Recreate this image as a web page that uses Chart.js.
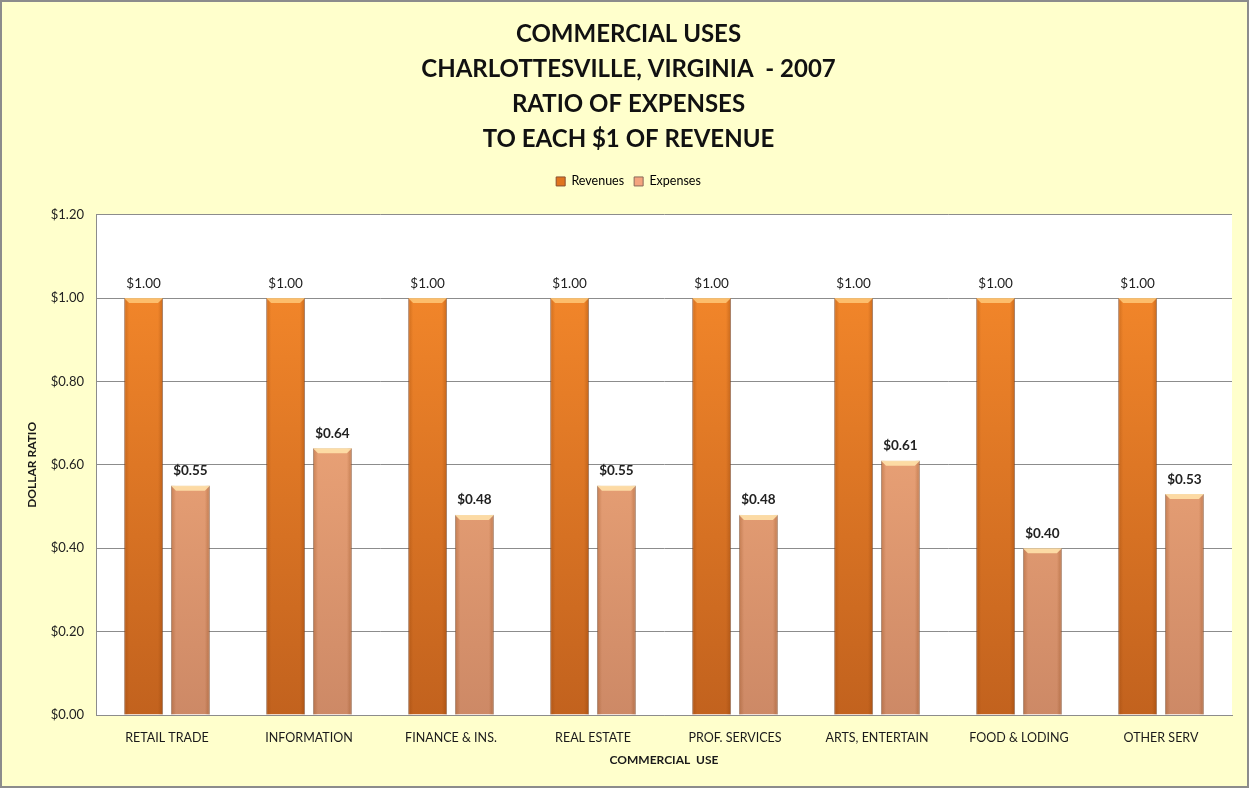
<!DOCTYPE html>
<html>
<head>
<meta charset="utf-8">
<script src="https://cdn.jsdelivr.net/npm/chart.js@4/dist/chart.umd.min.js"></script>
<style>
  html, body { margin: 0; padding: 0; background: #fff; }
  #wrap { position: relative; width: 1249px; height: 788px; background: #FFFFCC; box-sizing: border-box; border: 2px solid #8c8c8c; }
  canvas { display: block; }
</style>
</head>
<body>
<div id="wrap"><canvas id="chart" width="1245" height="784"></canvas></div>
<script>
const titleLines = ['COMMERCIAL USES', 'CHARLOTTESVILLE, VIRGINIA  - 2007', 'RATIO OF EXPENSES', 'TO EACH $1 OF REVENUE'];
const uses = ['RETAIL TRADE', 'INFORMATION', 'FINANCE & INS.', 'REAL ESTATE', 'PROF. SERVICES', 'ARTS, ENTERTAIN', 'FOOD & LODING', 'OTHER SERV'];
const revenues = [1.00, 1.00, 1.00, 1.00, 1.00, 1.00, 1.00, 1.00];
const expenses = [0.55, 0.64, 0.48, 0.55, 0.48, 0.61, 0.40, 0.53];

const FONT = 'Lato, "DejaVu Sans", sans-serif';
const TEXT = '#1a1a1a';

const money = v => '$' + v.toFixed(2);

// vertical gradient for each series, lighter at the top of the plot
function barFill(top, bottom) {
    return ctx => {
        const area = ctx.chart.chartArea;
        if (!area) return top;
        const g = ctx.chart.ctx.createLinearGradient(0, area.top, 0, area.bottom);
        g.addColorStop(0, top);
        g.addColorStop(1, bottom);
        return g;
    };
}

// white plot background
const plotBg = {
    id: 'plotBg',
    beforeDraw(chart) {
        const { ctx, chartArea: a } = chart;
        ctx.save();
        ctx.fillStyle = '#ffffff';
        ctx.fillRect(a.left, a.top, a.right - a.left, a.bottom - a.top);
        ctx.restore();
    }
};

// bevel shading + value labels on each bar
const barDecor = {
    id: 'barDecor',
    afterDatasetsDraw(chart) {
        const ctx = chart.ctx;
        chart.data.datasets.forEach((ds, di) => {
            const meta = chart.getDatasetMeta(di);
            meta.data.forEach((bar, i) => {
                const w = bar.width, x0 = bar.x - w / 2, x1 = bar.x + w / 2;
                const top = bar.y, bottom = bar.base;
                ctx.save();
                // side shading
                let g = ctx.createLinearGradient(x0, 0, x1, 0);
                g.addColorStop(0, 'rgba(120,50,0,0.28)');
                g.addColorStop(0.13, 'rgba(120,50,0,0)');
                g.addColorStop(0.87, 'rgba(120,50,0,0)');
                g.addColorStop(1, 'rgba(120,50,0,0.32)');
                ctx.fillStyle = g;
                ctx.fillRect(x0, top, w, bottom - top);
                // top cap highlight
                ctx.fillStyle = ds.capColor;
                ctx.beginPath();
                ctx.moveTo(x0, top);
                ctx.lineTo(x1, top);
                ctx.lineTo(x1 - 5, top + 5);
                ctx.lineTo(x0 + 5, top + 5);
                ctx.closePath();
                ctx.fill();
                // label
                ctx.fillStyle = '#222';
                ctx.font = (ds.labelBold ? 'bold ' : '') + '13.5px ' + FONT;
                ctx.textAlign = 'center';
                ctx.textBaseline = 'bottom';
                ctx.fillText(money(ds.data[i]), bar.x, top - 8);
                ctx.restore();
            });
        });
    }
};

// extra space under the legend
const legendGap = {
    id: 'legendGap',
    beforeInit(chart) {
        const fit = chart.legend.fit;
        chart.legend.fit = function () {
            fit.call(this);
            this.height += 17;
        };
    }
};

new Chart(document.getElementById('chart'), {
    type: 'bar',
    data: {
        labels: uses,
        datasets: [
            {
                label: 'Revenues',
                data: revenues,
                backgroundColor: barFill('#FA8C2C', '#C2621E'),
                borderColor: 'rgba(140,90,60,0.55)',
                borderWidth: 1,
                capColor: 'rgba(255,200,120,0.85)',
                labelBold: false,
                categoryPercentage: 0.66,
                barPercentage: 0.83
            },
            {
                label: 'Expenses',
                data: expenses,
                backgroundColor: barFill('#FFB482', '#CD8966'),
                borderColor: 'rgba(150,110,90,0.55)',
                borderWidth: 1,
                capColor: 'rgba(255,225,170,0.9)',
                labelBold: true,
                categoryPercentage: 0.66,
                barPercentage: 0.83
            }
        ]
    },
    options: {
        responsive: false,
        animation: false,
        layout: { padding: { left: 23, right: 15, top: 0, bottom: 19 } },
        plugins: {
            tooltip: { enabled: false },
            title: {
                display: true,
                text: titleLines,
                color: '#111',
                font: { family: FONT, size: 24, weight: 'bold', lineHeight: 1.45 },
                padding: { top: 15, bottom: 9 }
            },
            legend: {
                labels: {
                    color: TEXT,
                    font: { family: FONT, size: 12.5 },
                    boxWidth: 9,
                    boxHeight: 9,
                    padding: 10,
                    generateLabels(chart) {
                        return [
                            { text: 'Revenues', fillStyle: '#E0741F', strokeStyle: '#8a5030', lineWidth: 1, datasetIndex: 0 },
                            { text: 'Expenses', fillStyle: '#F4A47E', strokeStyle: '#8a6a5a', lineWidth: 1, datasetIndex: 1 }
                        ];
                    }
                }
            }
        },
        scales: {
            x: {
                grid: { display: false, drawTicks: false },
                border: { color: '#8c8c8c' },
                ticks: { color: TEXT, font: { family: FONT, size: 12.5 }, padding: 15, maxRotation: 0 },
                title: {
                    display: true,
                    text: 'COMMERCIAL  USE',
                    color: TEXT,
                    font: { family: FONT, size: 12, weight: 'bold' },
                    padding: { top: 6, bottom: 0 }
                },
                afterFit(scale) { scale.height = 52; }
            },
            y: {
                min: 0,
                max: 1.2,
                ticks: { stepSize: 0.2, color: '#222', font: { family: FONT, size: 13 }, padding: 12, callback: v => money(v) },
                grid: { color: '#8c8c8c', drawTicks: false },
                border: { color: '#8c8c8c' },
                title: {
                    display: true,
                    text: 'DOLLAR RATIO',
                    color: TEXT,
                    font: { family: FONT, size: 12, weight: 'bold' },
                    padding: { top: 0, bottom: 0 }
                },
                afterFit(scale) { scale.width = 71; }
            }
        }
    },
    plugins: [plotBg, barDecor, legendGap]
});
</script>
</body>
</html>
